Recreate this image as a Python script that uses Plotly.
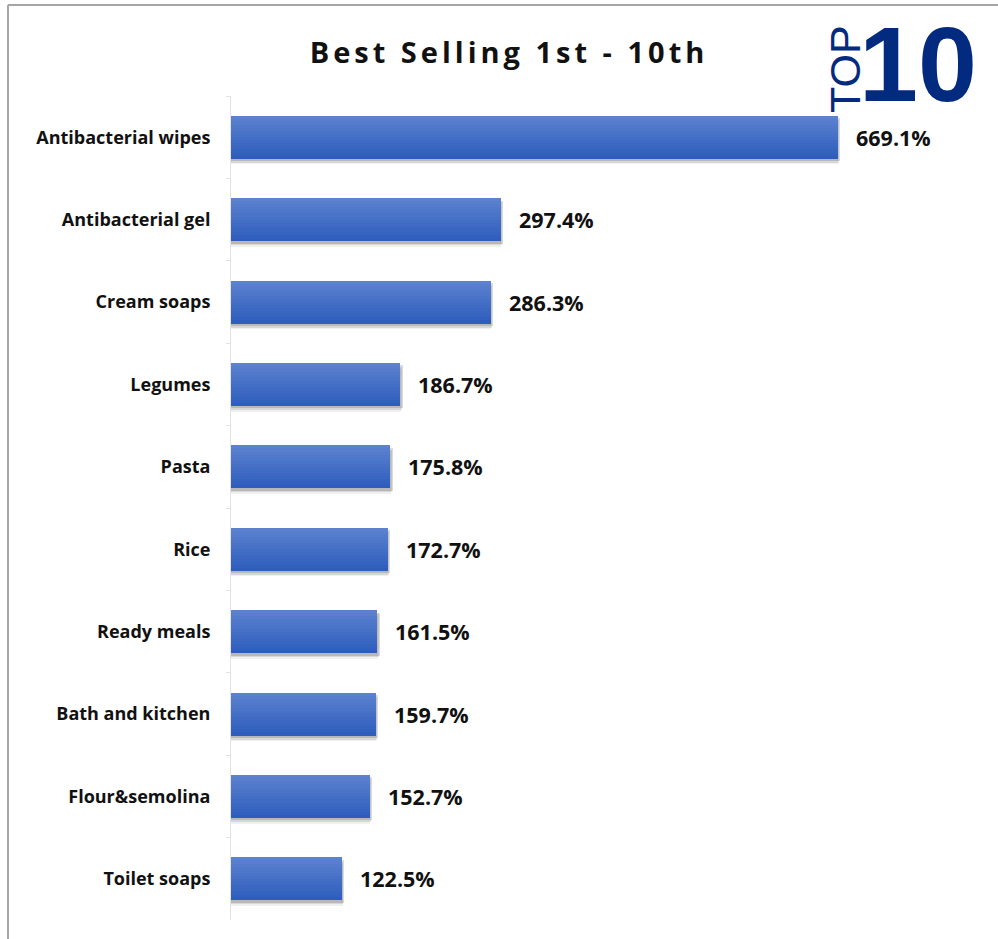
import plotly.graph_objects as go

# Top sellers and their growth (%)
products = [
    "Antibacterial wipes", "Antibacterial gel", "Cream soaps", "Legumes", "Pasta",
    "Rice", "Ready meals", "Bath and kitchen", "Flour&semolina", "Toilet soaps",
]
growth = [669.1, 297.4, 286.3, 186.7, 175.8, 172.7, 161.5, 159.7, 152.7, 122.5]
value_labels = [f"{v:.1f}%" for v in growth]

W, H = 998, 939
M_L, M_R, M_T, M_B = 231, 8, 96, 19
plot_w = W - M_L - M_R
plot_h = H - M_T - M_B
x_max = 836.8

BAR_H = 0.52
N_STRIPS = 14
top_rgb = (0x5C, 0x82, 0xCF)
bot_rgb = (0x2E, 0x5D, 0xBD)


# convert pixel positions to paper coordinates
def px_x(px):
    return (px - M_L) / plot_w


def px_y(py):
    return 1 - (py - M_T) / plot_h


fig = go.Figure()

# soft drop shadow under each bar
for k, (dy, alpha) in enumerate([(0.07, 0.06), (0.05, 0.10), (0.03, 0.14)]):
    fig.add_trace(go.Bar(
        y=products, x=[v + 0.5 + k for v in growth], orientation="h",
        width=BAR_H, offset=-BAR_H / 2 + dy,
        marker=dict(color=f"rgba(0,0,0,{alpha})", line=dict(width=0)),
        hoverinfo="skip", showlegend=False,
    ))

# vertical gradient fill built from thin stacked strips
strip = BAR_H / N_STRIPS
for i in range(N_STRIPS):
    t = i / (N_STRIPS - 1)
    r, g, b = (round(a + (c - a) * t) for a, c in zip(top_rgb, bot_rgb))
    fig.add_trace(go.Bar(
        y=products, x=growth, orientation="h",
        width=strip * 1.08, offset=-BAR_H / 2 + i * strip,
        marker=dict(color=f"rgb({r},{g},{b})", line=dict(width=0)),
        hoverinfo="skip", showlegend=False,
    ))

# value labels to the right of each bar
for p, v, lab in zip(products, growth, value_labels):
    fig.add_annotation(
        x=v, y=p, xref="x", yref="y", text=lab, showarrow=False,
        xanchor="left", yanchor="middle", xshift=16,
        font=dict(family="Open Sans", size=21.5, color="#111111", weight="bold"),
    )

# "TOP 10" badge
fig.add_annotation(
    x=px_x(979), y=px_y(64), xref="paper", yref="paper", text="10", showarrow=False,
    xanchor="right", yanchor="middle",
    font=dict(family="Liberation Sans", size=106, color="#022A7E", weight="bold"),
)
fig.add_annotation(
    x=px_x(845), y=px_y(69), xref="paper", yref="paper", text="TOP", showarrow=False,
    textangle=-90, xanchor="center", yanchor="middle",
    font=dict(family="Liberation Sans", size=43, color="#022A7E"),
)

# outer frame of the chart box
fig.add_shape(type="line", xref="paper", yref="paper",
              x0=px_x(8), x1=px_x(8), y0=px_y(5), y1=px_y(H + 5),
              line=dict(color="#A6A6A6", width=2))
fig.add_shape(type="line", xref="paper", yref="paper",
              x0=px_x(8), x1=px_x(W + 5), y0=px_y(5), y1=px_y(5),
              line=dict(color="#A6A6A6", width=2))

fig.update_layout(
    width=W, height=H,
    margin=dict(l=M_L, r=M_R, t=M_T, b=M_B),
    paper_bgcolor="white", plot_bgcolor="white",
    barmode="overlay", bargap=0,
    showlegend=False,
    title=dict(
        text='<span style="letter-spacing:4px">Best Selling 1st - 10th</span>',
        x=509 / W, y=1 - 53 / H,
        xref="container", yref="container", xanchor="center", yanchor="middle",
        font=dict(family="Open Sans", size=29, color="#111111", weight="bold"),
    ),
    xaxis=dict(range=[0, x_max], visible=False, fixedrange=True),
    yaxis=dict(
        autorange="reversed", categoryorder="array", categoryarray=products,
        showline=True, linecolor="#E3E3E3", linewidth=1,
        ticks="outside", ticklen=4, tickcolor="#E3E3E3", tickson="boundaries",
        ticklabelstandoff=16, showgrid=False,
        tickfont=dict(family="Open Sans", size=18, color="#111111", weight="bold"),
    ),
)

fig.write_html("out.html")
